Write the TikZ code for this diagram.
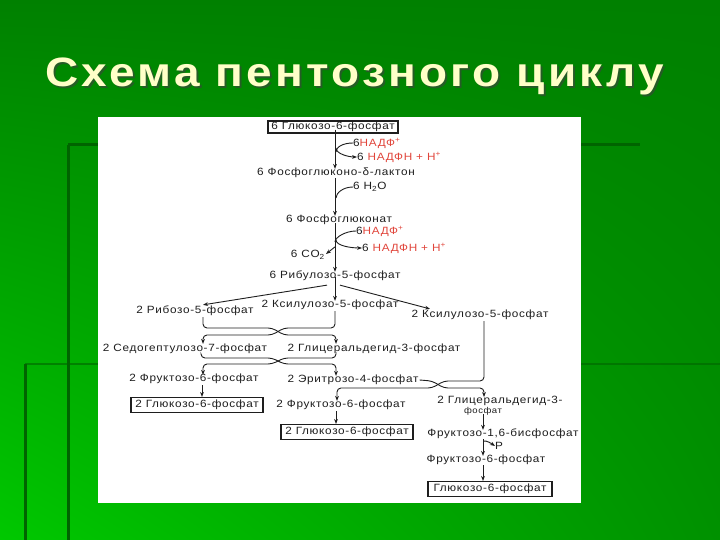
\documentclass[tikz,border=0pt]{standalone}
\usepackage{fontspec}
\setmainfont{Liberation Sans}
\newfontfamily\dfont[LetterSpace=6.5,FakeStretch=1.12]{Liberation Sans}
\newfontfamily\tfont[LetterSpace=8,FakeStretch=1.12]{Liberation Sans}
\usetikzlibrary{arrows.meta,calc,shadings}
\definecolor{rd}{RGB}{225,70,60}
\definecolor{ttl}{RGB}{255,255,200}
\definecolor{deco}{RGB}{0,100,0}
\definecolor{ink}{RGB}{30,30,30}
\definecolor{gUL}{RGB}{0,128,0}
\definecolor{gUR}{RGB}{0,128,0}
\definecolor{gLL}{RGB}{0,200,0}
\definecolor{gLR}{RGB}{0,145,0}
\begin{document}
\begin{tikzpicture}[x=1pt,y=-1pt,
  txt/.style={font=\dfont\fontsize{10.5}{12}\selectfont, inner sep=0pt, text=ink},
  bx/.style={txt, draw=ink, line width=1.1pt},
  arr/.style={-{Stealth[length=5pt,width=3.8pt]}, line width=0.9pt, draw=ink},
  ln/.style={line width=0.9pt, draw=ink},
  brk/.style={arr, rounded corners=4pt}]
\useasboundingbox (0,0) rectangle (720,540);
\shade[upper left=gUL, upper right=gUR, lower left=gLL, lower right=gLR]
  (0,0) rectangle (720,540);
% decorative template lines
\draw[deco, line width=3pt] (68,145) -- (68,540);
\draw[deco, line width=3pt] (68,145) -- (640,145);
\draw[deco, line width=3pt] (25,364) -- (25,540);
\draw[deco, line width=2pt, opacity=0.6] (25,364) -- (720,364);
% title
\node[font=\tfont\bfseries\fontsize{41}{48}\selectfont, text=black!75, opacity=0.6, anchor=base west, inner sep=0pt] (tsh) at (47,89) {Схема пентозного циклу};
\node[font=\tfont\bfseries\fontsize{41}{48}\selectfont, text=ttl, anchor=base west, inner sep=0pt] (title) at (45,87) {Схема пентозного циклу};
% panel
\fill[white] (98,117) rectangle (581,503);
\coordinate (ax) at (335,0);
% nodes
\node[bx, minimum width=130pt, minimum height=12pt] (g6p) at (333,127) {6 Глюкозо-6-фосфат};
\node[txt, anchor=west] (nadp1) at (353,143) {6\textcolor{rd}{НАДФ\textsuperscript{+}}};
\node[txt, anchor=west] (nadph1) at (357,157) {6 \textcolor{rd}{НАДФН + Н\textsuperscript{+}}};
\node[txt] (lact) at (336,173) {6 Фосфоглюконо-δ-лактон};
\node[txt, anchor=west] (h2o) at (353,187) {6 H\textsubscript{2}O};
\node[txt] (pgluc) at (339,220) {6 Фосфоглюконат};
\node[txt, anchor=west] (nadp2) at (356,231) {6\textcolor{rd}{НАДФ\textsuperscript{+}}};
\node[txt, anchor=west] (nadph2) at (362,248) {6 \textcolor{rd}{НАДФН + Н\textsuperscript{+}}};
\node[txt, anchor=east] (co2) at (325,255) {6 CO\textsubscript{2}};
\node[txt] (ru5p) at (335,276) {6 Рибулозо-5-фосфат};
\node[txt] (r5p) at (195,311) {2 Рибозо-5-фосфат};
\node[txt] (xu5pa) at (330,305) {2 Ксилулозо-5-фосфат};
\node[txt] (xu5pb) at (480,315) {2 Ксилулозо-5-фосфат};
\node[txt] (s7p) at (185,349) {2 Седогептулозо-7-фосфат};
\node[txt] (ga3pa) at (374,349) {2 Глицеральдегид-3-фосфат};
\node[txt] (f6pa) at (194,379) {2 Фруктозо-6-фосфат};
\node[txt] (e4p) at (353,380) {2 Эритрозо-4-фосфат};
\node[bx, minimum width=132pt, minimum height=15pt] (g6pa) at (197,405) {2 Глюкозо-6-фосфат};
\node[txt] (f6pb) at (341,405) {2 Фруктозо-6-фосфат};
\node[bx, minimum width=132pt, minimum height=15pt] (g6pb) at (347,432) {2 Глюкозо-6-фосфат};
\node[txt] (ga3pb) at (500,401) {2 Глицеральдегид-3-};
\node[txt, font=\dfont\fontsize{8.5}{10}\selectfont] (ga3pbx) at (483,411) {фосфат};
\node[txt] (fbp) at (503,434) {Фруктозо-1,6-бисфосфат};
\node[txt, anchor=west] (pi) at (495,446) {P};
\node[txt] (f6pc) at (486,460) {Фруктозо-6-фосфат};
\node[bx, minimum width=124pt, minimum height=15pt] (g6pc) at (490,489) {Глюкозо-6-фосфат};
% main axis arrows
\draw[arr] ([yshift=4pt]g6p.south -| ax) -- ([yshift=-1pt]lact.north -| ax);
\draw[arr] (lact.south -| ax) -- ([yshift=-1pt]pgluc.north -| ax);
\draw[arr] ([yshift=2pt]pgluc.south -| ax) -- ([yshift=-1pt]ru5p.north -| ax);
\draw[arr] ([yshift=4pt]ru5p.south -| ax) -- ([yshift=-1pt]xu5pa.north -| ax);
\draw[arr] ($(ru5p.south)+(-8,4)$) -- ($(r5p.north)+(8,-1)$);
\draw[arr] ($(ru5p.south)+(5,4)$) -- ($(xu5pb.north)+(-50,-1)$);
% side branches
\draw[ln] (nadp1.west) .. controls +(-10,0) and +(0,-5) .. ($(nadp1.west -| ax)+(1,9)$);
\draw[arr] ($(nadp1.west -| ax)+(1,5)$) .. controls +(0,6) and +(-8,0) .. (nadph1.west);
\draw[ln] (h2o.west) .. controls +(-10,0) and +(0,-5) .. ($(h2o.west -| ax)+(1,11)$);
\draw[ln] (nadp2.west) .. controls +(-10,0) and +(0,-5) .. ($(nadp2.west -| ax)+(0,11)$);
\draw[arr] ($(nadp2.west -| ax)+(1,9)$) .. controls +(0,6) and +(-10,0) .. (nadph2.west);
\draw[arr] ($(ru5p.north -| ax)+(0,-24)$) -- ($(co2.east)+(1,-1)$);
% bracket 1
\draw[brk] ($(r5p.south)+(8,1)$) -- (203,328) -- (272,328) -- (284,335) -- (336,335) -- (s7p.north -| 336,0);
\draw[brk] ($(xu5pa.south)+(5,1)$) -- (335,328) -- (284,328) -- (272,335) -- (203,335) -- (s7p.north -| 203,0);
% bracket 2
\draw[brk] ($(s7p.south)+(16,0)$) -- (201,358) -- (272,358) -- (284,364) -- (336,364) -- ([yshift=-1pt]e4p.north -| 336,0);
\draw[brk] (ga3pa.south -| 336,0) -- (336,358) -- (284,358) -- (272,364) -- (203,364) -- ([yshift=-1pt]f6pa.north -| 203,0);
% bracket 3
\draw[brk] ([xshift=1pt]e4p.east) -- (432,381) -- (444,388) -- (484,388) -- ([yshift=-1pt]ga3pb.north -| 484,0);
\draw[brk] ($(xu5pb.south)+(4,1)$) -- (484,381) -- (444,381) -- (432,388) -- (337,388) -- ([yshift=-1pt]f6pb.north -| 337,0);
% lower arrows
\draw[arr] ($(f6pa.south)+(8,1)$) -- (g6pa.north -| 202,0);
\draw[arr] ($(f6pb.south)+(-5,1)$) -- (g6pb.north -| 336,0);
\draw[arr] ([yshift=1pt]ga3pbx.south) -- ([yshift=-1pt]fbp.north -| 483,0);
\draw[arr] (fbp.south -| 483,0) -- ([yshift=-1pt]f6pc.north -| 483,0);
\draw[arr] ($(fbp.south -| 483,0)+(0,2)$) .. controls +(4,-1) and +(-3,-2) .. (pi.west);
\draw[arr] (f6pc.south -| 483,0) -- (g6pc.north -| 483,0);
\end{tikzpicture}
\end{document}
